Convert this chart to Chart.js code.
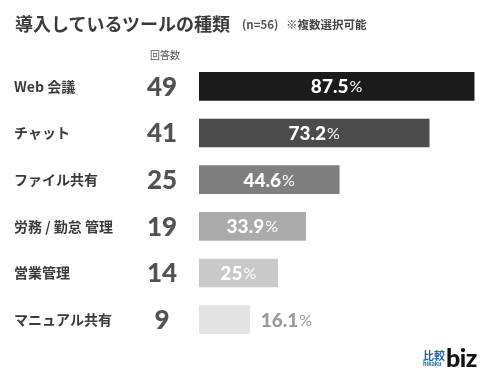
<!DOCTYPE html>
<html><head><meta charset="utf-8">
<script src="https://cdn.jsdelivr.net/npm/chart.js@4/dist/chart.umd.min.js"></script>
<style>
html,body{margin:0;padding:0;background:#fff;}
#wrap{position:relative;width:490px;height:380px;overflow:hidden;}
canvas{position:absolute;left:0;top:0;}
.t{position:absolute;white-space:nowrap;font-family:"Noto Sans CJK JP","Noto Sans",sans-serif;color:#3a3a3a;line-height:1;}
</style></head>
<body><div id="wrap">
<canvas id="c" width="490" height="380"></canvas>
<div class="t" style="left:15px;top:14px;font-size:18px;font-weight:700;">導入しているツールの種類</div>
<div class="t" style="left:242px;top:19px;font-size:11.5px;font-weight:700;color:#555;">(n=56)</div>
<div class="t" style="left:286px;top:19px;font-size:11.5px;font-weight:700;color:#444;">※複数選択可能</div>
<div class="t" style="left:150px;top:50px;font-size:10px;color:#555;">回答数</div>
<div class="t" style="left:423px;top:350px;font-size:11px;font-weight:700;color:#1f64b4;">比較</div>
<div class="t" style="left:423px;top:362px;font-size:5.5px;font-weight:700;color:#1f64b4;">hikaku</div>
<div class="t" style="left:446px;top:345px;font-size:25px;font-weight:900;color:#111;font-family:Lato,'Open Sans',sans-serif;letter-spacing:-0.5px;">biz</div>
</div>
<script>
const categories = ["Web 会議", "チャット", "ファイル共有", "労務 / 勤怠 管理", "営業管理", "マニュアル共有"];
const counts = [49, 41, 25, 19, 14, 9];
const percents = [87.5, 73.2, 44.6, 33.9, 25, 16.1];
const percentLabels = ["87.5", "73.2", "44.6", "33.9", "25", "16.1"];
const barColors = ["#1b1b1b", "#4b4b4b", "#7f7f7f", "#aaaaaa", "#c9c9c9", "#e4e4e4"];

const labelPlugin = {
  id: 'labels',
  afterDatasetsDraw(chart) {
    const ctx = chart.ctx;
    const meta = chart.getDatasetMeta(0);
    meta.data.forEach((bar, i) => {
      const y = bar.y;
      ctx.save();
      ctx.textBaseline = 'middle';
      ctx.fillStyle = '#3a3a3a';
      ctx.font = '700 14px "Noto Sans CJK JP", sans-serif';
      ctx.textAlign = 'left';
      ctx.fillText(categories[i], 14, y);
      ctx.fillStyle = '#525252';
      ctx.font = '900 26px Lato, "Open Sans", sans-serif';
      ctx.textAlign = 'center';
      ctx.fillText(String(counts[i]), 162, y + 1);
      const numFont = '900 19px Lato, "Open Sans", sans-serif';
      const pctFont = '400 16px Lato, "Open Sans", sans-serif';
      ctx.font = numFont;
      const w1 = ctx.measureText(percentLabels[i]).width;
      ctx.font = pctFont;
      const w2 = ctx.measureText('%').width;
      const total = w1 + w2 + 1;
      const barW = bar.x - bar.base;
      let sx, color;
      if (barW > total + 20) {
        sx = (bar.x + bar.base) / 2 - total / 2;
        color = '#ffffff';
      } else {
        sx = bar.x + 11;
        color = '#9a9a9a';
      }
      ctx.textAlign = 'left';
      ctx.fillStyle = color;
      ctx.font = numFont;
      ctx.fillText(percentLabels[i], sx, y + 1);
      ctx.font = pctFont;
      ctx.fillText('%', sx + w1 + 1, y + 1);
      ctx.restore();
    });
  }
};

new Chart(document.getElementById('c'), {
  type: 'bar',
  data: {
    labels: categories,
    datasets: [{
      data: percents,
      backgroundColor: barColors,
      borderWidth: 0,
      barThickness: 28
    }]
  },
  options: {
    indexAxis: 'y',
    responsive: false,
    animation: false,
    layout: { padding: { left: 199, right: 8, top: 63, bottom: 37 } },
    plugins: { legend: { display: false }, tooltip: { enabled: false }, title: { display: false } },
    scales: {
      x: { display: false, min: 0, max: 90 },
      y: { display: false }
    }
  },
  plugins: [labelPlugin]
});
</script>
</body></html>
